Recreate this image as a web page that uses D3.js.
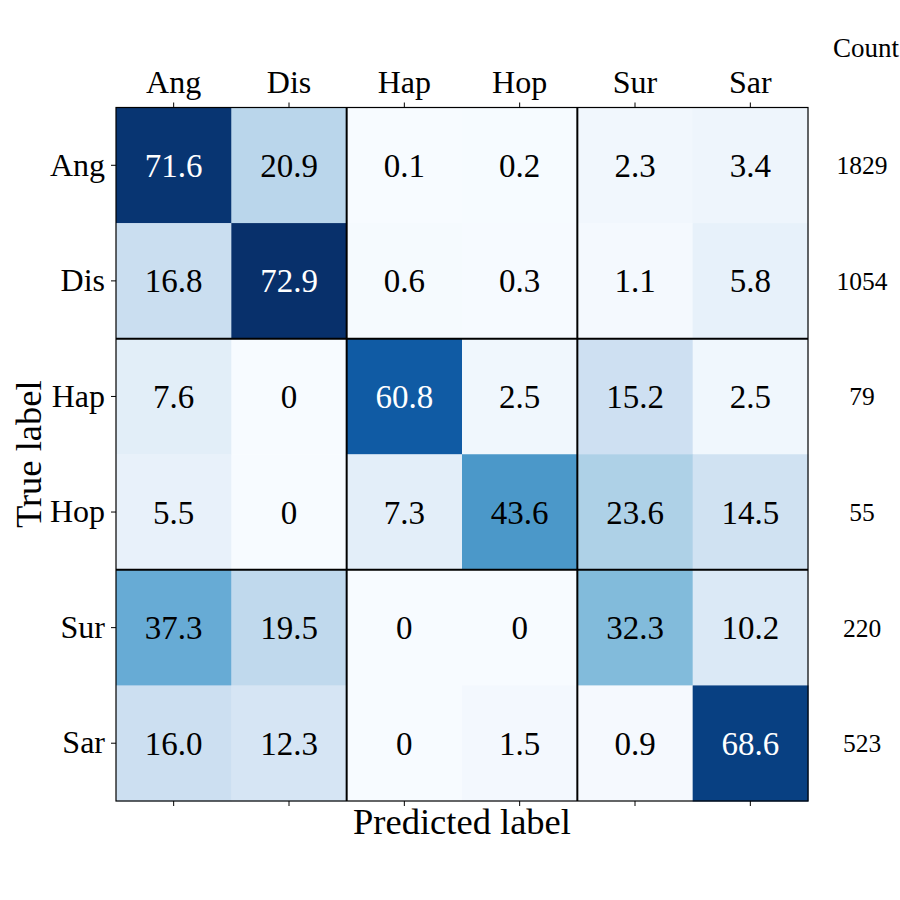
<!DOCTYPE html>
<html>
<head>
<meta charset="utf-8">
<script src="https://cdn.jsdelivr.net/npm/d3@7"></script>
<style>
  body { margin: 0; background: #fff; }
  text { font-family: "Liberation Serif", "Times New Roman", "DejaVu Serif", serif; }
</style>
</head>
<body>
<div id="chart"></div>
<script>
const labels = ['Ang', 'Dis', 'Hap', 'Hop', 'Sur', 'Sar']
const counts = [1829, 1054, 79, 55, 220, 523]
const matrix = [
    [71.6, 20.9, 0.1, 0.2, 2.3, 3.4],
    [16.8, 72.9, 0.6, 0.3, 1.1, 5.8],
    [7.6, 0, 60.8, 2.5, 15.2, 2.5],
    [5.5, 0, 7.3, 43.6, 23.6, 14.5],
    [37.3, 19.5, 0, 0, 32.3, 10.2],
    [16.0, 12.3, 0, 1.5, 0.9, 68.6]
]
const cellText = [
    ['71.6', '20.9', '0.1', '0.2', '2.3', '3.4'],
    ['16.8', '72.9', '0.6', '0.3', '1.1', '5.8'],
    ['7.6', '0', '60.8', '2.5', '15.2', '2.5'],
    ['5.5', '0', '7.3', '43.6', '23.6', '14.5'],
    ['37.3', '19.5', '0', '0', '32.3', '10.2'],
    ['16.0', '12.3', '0', '1.5', '0.9', '68.6']
]
const groupBreaks = [2, 4]

const width = 900, height = 900
const gridLeft = 116, gridRight = 808, gridTop = 107.5, gridBottom = 801
const serif = '"Liberation Serif", "Times New Roman", "DejaVu Serif", serif'

const svg = d3.select('#chart').append('svg')
    .attr('width', width).attr('height', height)
    .attr('font-family', serif)

const x = d3.scaleBand().domain(d3.range(labels.length)).range([gridLeft, gridRight])
const y = d3.scaleBand().domain(d3.range(labels.length)).range([gridTop, gridBottom])

// matplotlib 'Blues' (colorbrewer 9 stops, linear)
const blues = ['#f7fbff', '#deebf7', '#c6dbef', '#9ecae1', '#6baed6', '#4292c6', '#2171b5', '#08519c', '#08306b']
const vmax = d3.max(matrix.flat())
const color = d3.scaleLinear()
    .domain(blues.map((d, i) => vmax * i / (blues.length - 1)))
    .range(blues)
    .interpolate(d3.interpolateRgb)

const cells = []
matrix.forEach((row, i) => row.forEach((v, j) => cells.push({ i, j, v, t: cellText[i][j] })))

svg.selectAll('rect.cell')
    .data(cells)
    .enter()
    .append('rect')
    .attr('class', 'cell')
    .attr('x', d => x(d.j))
    .attr('y', d => y(d.i))
    .attr('width', x.bandwidth() + 0.5)
    .attr('height', y.bandwidth() + 0.5)
    .attr('fill', d => color(d.v))

svg.selectAll('text.val')
    .data(cells)
    .enter()
    .append('text')
    .attr('class', 'val')
    .attr('x', d => x(d.j) + x.bandwidth() / 2)
    .attr('y', d => y(d.i) + y.bandwidth() / 2)
    .attr('dy', '0.35em')
    .attr('text-anchor', 'middle')
    .attr('font-size', 33)
    .attr('fill', d => d.v > vmax * 0.7 ? '#fff' : '#000')
    .text(d => d.t)

// group separators
groupBreaks.forEach(b => {
    svg.append('line')
        .attr('x1', x(b)).attr('x2', x(b)).attr('y1', gridTop).attr('y2', gridBottom)
        .attr('stroke', '#000').attr('stroke-width', 2)
    svg.append('line')
        .attr('x1', gridLeft).attr('x2', gridRight).attr('y1', y(b)).attr('y2', y(b))
        .attr('stroke', '#000').attr('stroke-width', 2)
})

svg.append('rect')
    .attr('x', gridLeft).attr('y', gridTop)
    .attr('width', gridRight - gridLeft).attr('height', gridBottom - gridTop)
    .attr('fill', 'none').attr('stroke', '#000').attr('stroke-width', 1.2)

// axes
const xTop = d3.axisTop(x).tickFormat(i => labels[i]).tickSize(5).tickPadding(10)
const xBottom = d3.axisBottom(x).tickFormat('').tickSize(5)
const yLeft = d3.axisLeft(y).tickFormat(i => labels[i]).tickSize(5).tickPadding(6)

const gTop = svg.append('g').attr('transform', `translate(0,${gridTop})`).call(xTop)
const gBot = svg.append('g').attr('transform', `translate(0,${gridBottom})`).call(xBottom)
const gLeft = svg.append('g').attr('transform', `translate(${gridLeft},0)`).call(yLeft)
;[gTop, gBot, gLeft].forEach(g => {
    g.attr('font-family', serif)
    g.select('.domain').remove()
    g.selectAll('text').attr('font-size', 32).attr('fill', '#000')
    g.selectAll('line').attr('stroke', '#000')
})

// counts column
svg.append('text')
    .attr('x', 866).attr('y', 57)
    .attr('text-anchor', 'middle')
    .attr('font-size', 27)
    .text('Count')

svg.selectAll('text.count')
    .data(counts)
    .enter()
    .append('text')
    .attr('class', 'count')
    .attr('x', 862)
    .attr('y', (d, i) => y(i) + y.bandwidth() / 2)
    .attr('dy', '0.35em')
    .attr('text-anchor', 'middle')
    .attr('font-size', 25.5)
    .text(d => d)

svg.append('text')
    .attr('x', (gridLeft + gridRight) / 2)
    .attr('y', 834)
    .attr('text-anchor', 'middle')
    .attr('font-size', 36.5)
    .text('Predicted label')

svg.append('text')
    .attr('transform', `translate(41,${(gridTop + gridBottom) / 2}) rotate(-90)`)
    .attr('text-anchor', 'middle')
    .attr('font-size', 36.5)
    .text('True label')
</script>
</body>
</html>
